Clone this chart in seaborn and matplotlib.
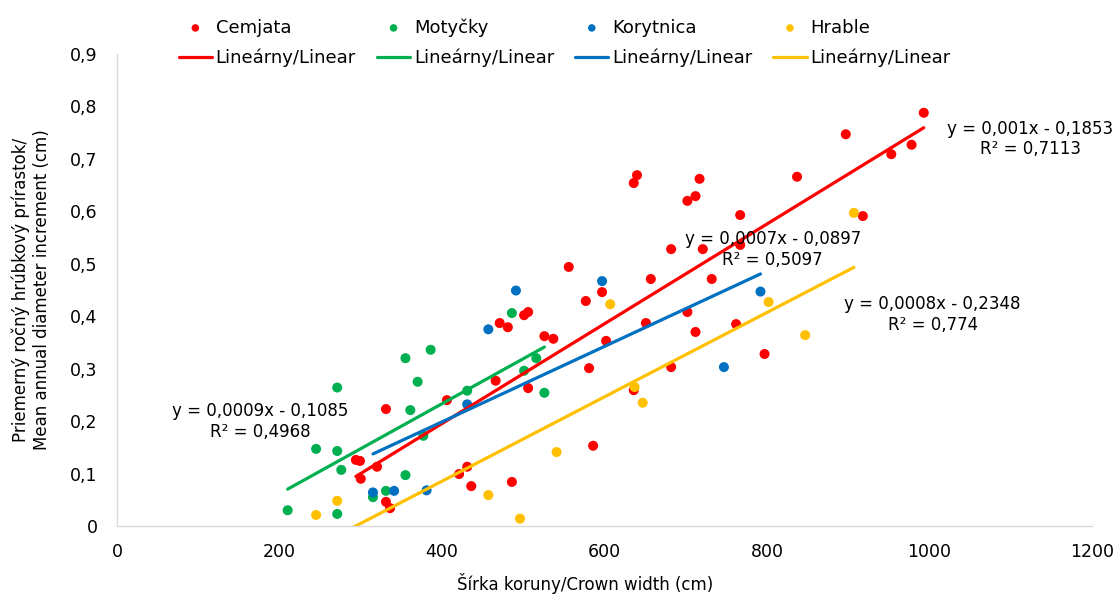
import numpy as np
import pandas as pd
import matplotlib
matplotlib.use("Agg")
import matplotlib.pyplot as plt
import seaborn as sns

# Data
lokality = ["Cemjata", "Motyčky", "Korytnica", "Hrable"]
farby = ["#FF0000", "#00B050", "#0070C0", "#FFC000"]

cemjata_x = [294, 299, 300, 320, 331, 331, 336, 406, 421, 431, 436, 466, 471, 481,
             486, 501, 506, 506, 526, 537, 556, 577, 581, 586, 597, 602, 636, 636,
             640, 651, 657, 682, 682, 702, 702, 712, 712, 717, 721, 732, 762, 767,
             767, 797, 837, 897, 918, 953, 978, 993]
cemjata_y = [0.126, 0.124, 0.090, 0.113, 0.223, 0.046, 0.034, 0.240, 0.099, 0.113,
             0.076, 0.277, 0.387, 0.379, 0.084, 0.402, 0.408, 0.263, 0.362, 0.357,
             0.494, 0.429, 0.301, 0.153, 0.446, 0.353, 0.259, 0.654, 0.669, 0.387,
             0.471, 0.528, 0.303, 0.620, 0.408, 0.629, 0.370, 0.662, 0.528, 0.471,
             0.385, 0.593, 0.536, 0.328, 0.666, 0.747, 0.591, 0.709, 0.727, 0.788]

motycky_x = [210, 245, 271, 271, 271, 276, 315, 331, 355, 355, 361, 370, 377, 386,
             431, 486, 501, 516, 526]
motycky_y = [0.030, 0.147, 0.264, 0.143, 0.023, 0.107, 0.055, 0.067, 0.320, 0.097,
             0.221, 0.275, 0.172, 0.336, 0.258, 0.406, 0.296, 0.320, 0.254]

korytnica_x = [315, 341, 381, 431, 457, 491, 597, 747, 792]
korytnica_y = [0.064, 0.067, 0.068, 0.232, 0.375, 0.449, 0.467, 0.303, 0.447]

hrable_x = [245, 271, 457, 496, 541, 607, 637, 647, 802, 847, 907]
hrable_y = [0.021, 0.048, 0.059, 0.014, 0.141, 0.423, 0.265, 0.235, 0.427, 0.364, 0.597]

rovnice = ["y = 0,001x - 0,1853\nR² = 0,7113",
           "y = 0,0009x - 0,1085\nR² = 0,4968",
           "y = 0,0007x - 0,0897\nR² = 0,5097",
           "y = 0,0008x - 0,2348\nR² = 0,774"]
rovnice_pos = [(1124, 0.738), (176, 0.200), (807, 0.528), (1004, 0.404)]

x_ticks = [0, 200, 400, 600, 800, 1000, 1200]
y_ticks = [0, 0.1, 0.2, 0.3, 0.4, 0.5, 0.6, 0.7, 0.8, 0.9]

df = pd.concat([
    pd.DataFrame({"sirka": cemjata_x, "prirastok": cemjata_y, "lokalita": "Cemjata"}),
    pd.DataFrame({"sirka": motycky_x, "prirastok": motycky_y, "lokalita": "Motyčky"}),
    pd.DataFrame({"sirka": korytnica_x, "prirastok": korytnica_y, "lokalita": "Korytnica"}),
    pd.DataFrame({"sirka": hrable_x, "prirastok": hrable_y, "lokalita": "Hrable"}),
])

sns.set_style("white")
plt.rcParams["font.family"] = ["DejaVu Sans"]
plt.rcParams["font.size"] = 12
plt.rcParams["text.color"] = "black"
plt.rcParams["axes.labelcolor"] = "black"
plt.rcParams["xtick.color"] = "black"
plt.rcParams["ytick.color"] = "black"

fig = plt.figure(figsize=(11.18, 5.99), dpi=100)
ax = fig.add_axes([0.1047, 0.1219, 0.872, 0.7879])

scat_handles = []
line_handles = []
for name, c in zip(lokality, farby):
    sub = df[df["lokalita"] == name]
    sns.scatterplot(data=sub, x="sirka", y="prirastok", color=c, s=52,
                    edgecolor="none", ax=ax, label=name, legend=False)
    scat_handles.append(ax.collections[-1])

for name, c in zip(lokality, farby):
    sub = df[df["lokalita"] == name]
    sns.regplot(data=sub, x="sirka", y="prirastok", scatter=False, ci=None,
                color=c, line_kws={"lw": 2.3}, ax=ax, label="Lineárny/Linear")
    line_handles.append(ax.lines[-1])

# Trendline equations
for txt, (tx, ty) in zip(rovnice, rovnice_pos):
    ax.text(tx, ty, txt, ha="center", va="center", multialignment="center",
            fontsize=12, color="black")

ax.set_xlim(0, 1200)
ax.set_ylim(0, 0.9)
ax.set_xticks(x_ticks)
ax.set_xticklabels([str(v) for v in x_ticks])
ax.set_yticks(y_ticks)
ax.set_yticklabels(["0" if v == 0 else f"{v:.1f}".replace(".", ",") for v in y_ticks])
ax.tick_params(length=0, labelsize=12.5)
ax.tick_params(axis="y", pad=14)
ax.tick_params(axis="x", pad=12)

for s in ["top", "right"]:
    ax.spines[s].set_visible(False)
for s in ["left", "bottom"]:
    ax.spines[s].set_color("#D9D9D9")
    ax.spines[s].set_linewidth(1)

ax.set_xlabel("Šírka koruny/Crown width (cm)", fontsize=12)
ax.set_ylabel("Priemerný ročný hrúbkový prírastok/\nMean annual diameter increment (cm)",
              fontsize=12)
ax.xaxis.set_label_coords(0.48, -0.1)
ax.yaxis.set_label_coords(-0.068, 0.5)

if ax.get_legend() is not None:
    ax.get_legend().remove()

handles = []
labels = []
for i in range(4):
    handles += [scat_handles[i], line_handles[i]]
    labels += [lokality[i], "Lineárny/Linear"]

fig.legend(handles, labels, ncol=4, loc="center", bbox_to_anchor=(0.505, 0.929),
           frameon=False, fontsize=13, handlelength=1.85, handletextpad=0.2,
           columnspacing=1.16, labelspacing=0.65, markerscale=0.75)

plt.savefig("out.png", dpi=100)
